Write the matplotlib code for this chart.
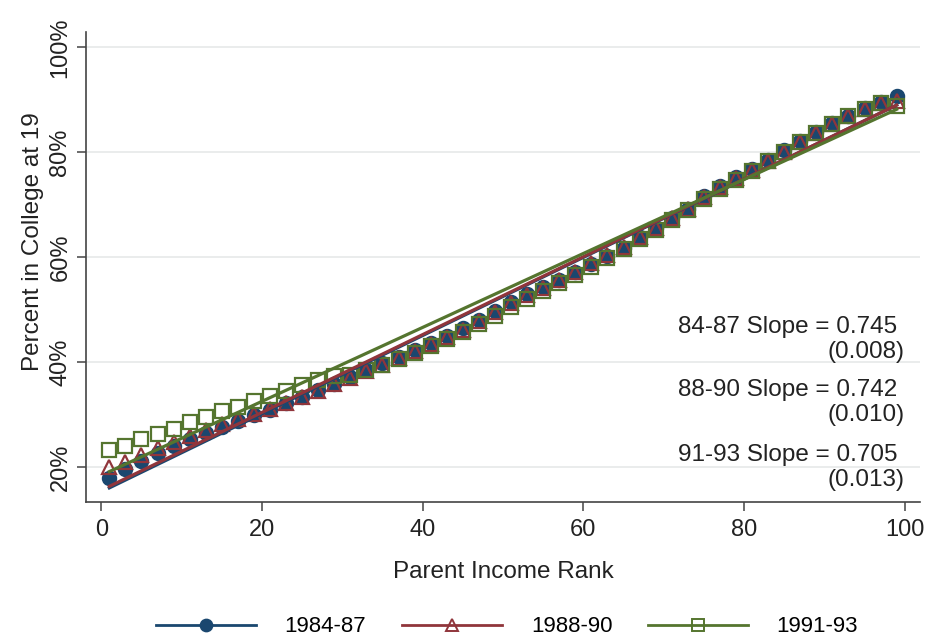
import numpy as np
import matplotlib
matplotlib.use("Agg")
import matplotlib.pyplot as plt
from matplotlib.ticker import FuncFormatter

plt.rcParams['font.family'] = ['Liberation Sans', 'DejaVu Sans']

# parent income rank (two-percentile bins)
rank = list(range(1, 100, 2))

cohort_84_87 = [17.8, 19.6, 21.2, 22.6, 24.0, 25.3, 26.4, 27.6, 28.8, 29.9,
                30.9, 32.1, 33.3, 34.6, 35.9, 37.2, 38.5, 39.8, 41.0, 42.3,
                43.7, 45.0, 46.4, 48.1, 49.8, 51.5, 53.0, 54.3, 55.6, 57.2,
                58.7, 60.2, 61.8, 63.8, 65.5, 67.4, 69.1, 71.6, 73.5, 75.3,
                76.9, 78.6, 80.4, 82.2, 83.9, 85.5, 87.0, 88.5, 89.6, 90.8]
cohort_88_90 = [20.0, 20.9, 22.3, 23.6, 24.8, 25.9, 27.0, 28.1, 29.1, 30.1,
                31.1, 32.2, 33.3, 34.5, 35.8, 37.0, 38.2, 39.5, 40.8, 42.1,
                43.5, 44.8, 46.2, 47.9, 49.6, 51.2, 52.8, 54.2, 55.6, 57.2,
                58.8, 60.4, 62.0, 63.9, 65.6, 67.5, 69.2, 71.4, 73.3, 75.1,
                76.6, 78.3, 80.1, 81.9, 83.6, 85.3, 86.9, 88.3, 89.4, 89.8]
cohort_91_93 = [23.3, 24.0, 25.3, 26.2, 27.3, 28.5, 29.6, 30.6, 31.5, 32.5,
                33.5, 34.5, 35.6, 36.6, 37.3, 37.6, 38.4, 39.4, 40.5, 41.8,
                43.1, 44.4, 45.8, 47.3, 48.8, 50.4, 52.0, 53.6, 55.1, 56.6,
                58.2, 59.8, 61.5, 63.4, 65.2, 67.1, 68.9, 71.0, 72.9, 74.8,
                76.5, 78.3, 80.1, 81.9, 83.6, 85.3, 86.9, 88.2, 89.3, 88.9]

labels = ['1984-87', '1988-90', '1991-93']
short = ['84-87', '88-90', '91-93']
slopes = [0.745, 0.742, 0.705]
std_errs = [0.008, 0.010, 0.013]
intercepts = [15.25, 15.55, 18.4]

colors = ['#1a476f', '#90353b', '#55752f']
markers = ['o', '^', 's']

fig = plt.figure(figsize=(9.26, 6.41), dpi=100)
ax = fig.add_axes([0.0929, 0.2168, 0.9006, 0.733])

series = [cohort_84_87, cohort_88_90, cohort_91_93]
for i, ys in enumerate(series):
    filled = i == 0
    ax.plot(rank, ys, linestyle='none', marker=markers[i],
            markersize=10 if i else 9.5,
            markerfacecolor=colors[i] if filled else 'none',
            markeredgecolor=colors[i], markeredgewidth=1.6, zorder=3)

handles = []
xs = np.array([rank[0], rank[-1]])
for i in range(3):
    ax.plot(xs, intercepts[i] + slopes[i] * xs, color=colors[i], lw=2.3, zorder=4)
    h, = ax.plot([], [], color=colors[i], lw=2, marker=markers[i],
                 markersize=8.5,
                 markerfacecolor=colors[i] if i == 0 else 'none',
                 markeredgecolor=colors[i], markeredgewidth=1.4)
    handles.append(h)

# slope annotations
text_y = [(46.7, 42.0), (34.7, 29.9), (22.3, 17.5)]
for i in range(3):
    ax.text(99.1, text_y[i][0], f'{short[i]} Slope = {slopes[i]:.3f}',
            ha='right', va='center', fontsize=17.5, color='#222222')
    ax.text(100.0, text_y[i][1], f'({std_errs[i]:.3f})',
            ha='right', va='center', fontsize=17.5, color='#222222')

ax.set_xlim(-1.9, 101.9)
ax.set_ylim(13.3, 102.9)
ax.set_xticks([0, 20, 40, 60, 80, 100])
ax.set_yticks([20, 40, 60, 80, 100])
ax.yaxis.set_major_formatter(FuncFormatter(lambda v, p: f'{v:.0f}%'))

ax.grid(axis='y', color='#e8eaea', lw=1.3)
ax.set_axisbelow(True)
for s in ['top', 'right']:
    ax.spines[s].set_visible(False)
for s in ['left', 'bottom']:
    ax.spines[s].set_color('#444444')
    ax.spines[s].set_linewidth(1.2)

ax.tick_params(axis='both', direction='out', length=6.5, width=1.1,
               color='#444444', labelsize=17, labelcolor='#222222')
ax.tick_params(axis='x', pad=6)
ax.tick_params(axis='y', pad=4, labelrotation=90)
for lab in ax.get_yticklabels():
    lab.set_va('center')

ax.set_xlabel('Parent Income Rank', fontsize=17.5, color='#222222', labelpad=14)
ax.set_ylabel('Percent in College at 19', fontsize=17.5, color='#222222')
ax.yaxis.set_label_coords(-0.05, 0.555)

fig.legend(handles, labels, loc='center', bbox_to_anchor=(507 / 926, 1 - 627 / 641),
           ncol=3, frameon=False, fontsize=16, handlelength=4.5,
           handletextpad=1.3, columnspacing=1.6, numpoints=1,
           borderpad=0.2)

fig.savefig('out.png', dpi=100)
